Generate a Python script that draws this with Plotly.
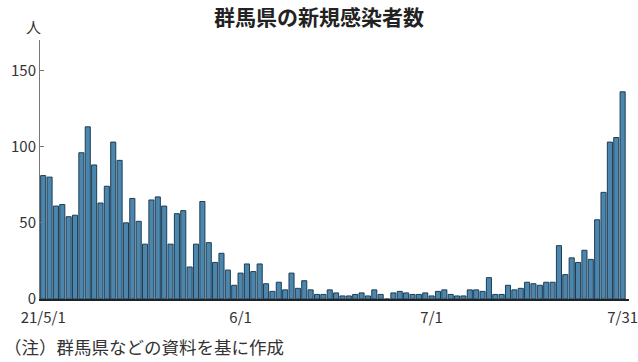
import pandas as pd
import plotly.graph_objects as go

dates = pd.date_range("2021-05-01", "2021-07-31", freq="D")
cases = [
    81, 80, 61, 62, 54, 55, 96, 113, 88, 63,
    74, 103, 91, 50, 66, 51, 36, 65, 67, 61,
    36, 56, 58, 21, 36, 64, 37, 24, 30, 19,
    9, 17, 23, 18, 23, 10, 5, 11, 6, 17,
    7, 12, 6, 3, 3, 6, 4, 2, 2, 3,
    4, 2, 6, 3, 0, 4, 5, 4, 3, 3,
    4, 2, 5, 6, 3, 2, 2, 6, 6, 5,
    14, 3, 3, 9, 6, 7, 11, 10, 9, 11,
    11, 35, 16, 27, 24, 32, 26, 52, 70, 103,
    106, 136,
]
tick_dates = ["2021-05-01", "2021-06-01", "2021-07-01", "2021-07-31"]
tick_text = ["21/5/1", "6/1", "7/1", "7/31"]
y_ticks = [0, 50, 100, 150]

title = "群馬県の新規感染者数"
unit = "人"
note = "（注）群馬県などの資料を基に作成"

FONT = "Noto Sans CJK JP"

idx = list(range(len(dates)))
date_pos = {d.strftime("%Y-%m-%d"): i for i, d in enumerate(dates)}
tick_vals = [date_pos[d] for d in tick_dates]

fig = go.Figure(go.Bar(
    x=idx, y=cases,
    customdata=[d.strftime("%Y-%m-%d") for d in dates],
    hovertemplate="%{customdata}: %{y}<extra></extra>",
    marker=dict(color="#4d86ad", line=dict(color="#1c3d55", width=1)),
))

fig.update_layout(
    width=638, height=362,
    margin=dict(l=40, r=9, t=40, b=63),
    paper_bgcolor="white", plot_bgcolor="white",
    bargap=0.2,
    showlegend=False,
    font=dict(family=FONT, color="#333333"),
    title=dict(text="<b>" + title + "</b>", x=0.5, xanchor="center", y=0.95, yanchor="middle",
               font=dict(size=21, color="#222222", family=FONT)),
)
fig.update_xaxes(
    type="linear",
    range=[-0.5, 92.0],
    tickmode="array", tickvals=tick_vals, ticktext=tick_text,
    ticklabeloverflow="allow",
    automargin=False,
    showline=True, linecolor="#222222", linewidth=1.5,
    ticks="outside", ticklen=4, tickcolor="rgba(0,0,0,0)",
    showgrid=False, zeroline=False,
    tickfont=dict(size=15, color="#333333", family=FONT),
)
fig.update_yaxes(
    range=[0, 170],
    tickvals=y_ticks,
    automargin=False,
    showline=True, linecolor="#777777", linewidth=1,
    ticks="inside", ticklen=4, tickcolor="#777777",
    showgrid=False, zeroline=False,
    tickfont=dict(size=15, color="#333333", family=FONT),
)
fig.add_annotation(text=unit, xref="paper", yref="paper", x=0, xshift=-7, y=1.0, yshift=1,
                   xanchor="center", yanchor="bottom", showarrow=False,
                   font=dict(size=15, color="#333333", family=FONT))
fig.add_annotation(text=note, xref="paper", yref="paper", x=0, xshift=-38, y=0, yshift=-33,
                   xanchor="left", yanchor="top", showarrow=False,
                   font=dict(size=17.5, color="#333333", family=FONT))

fig.write_html("out.html")
